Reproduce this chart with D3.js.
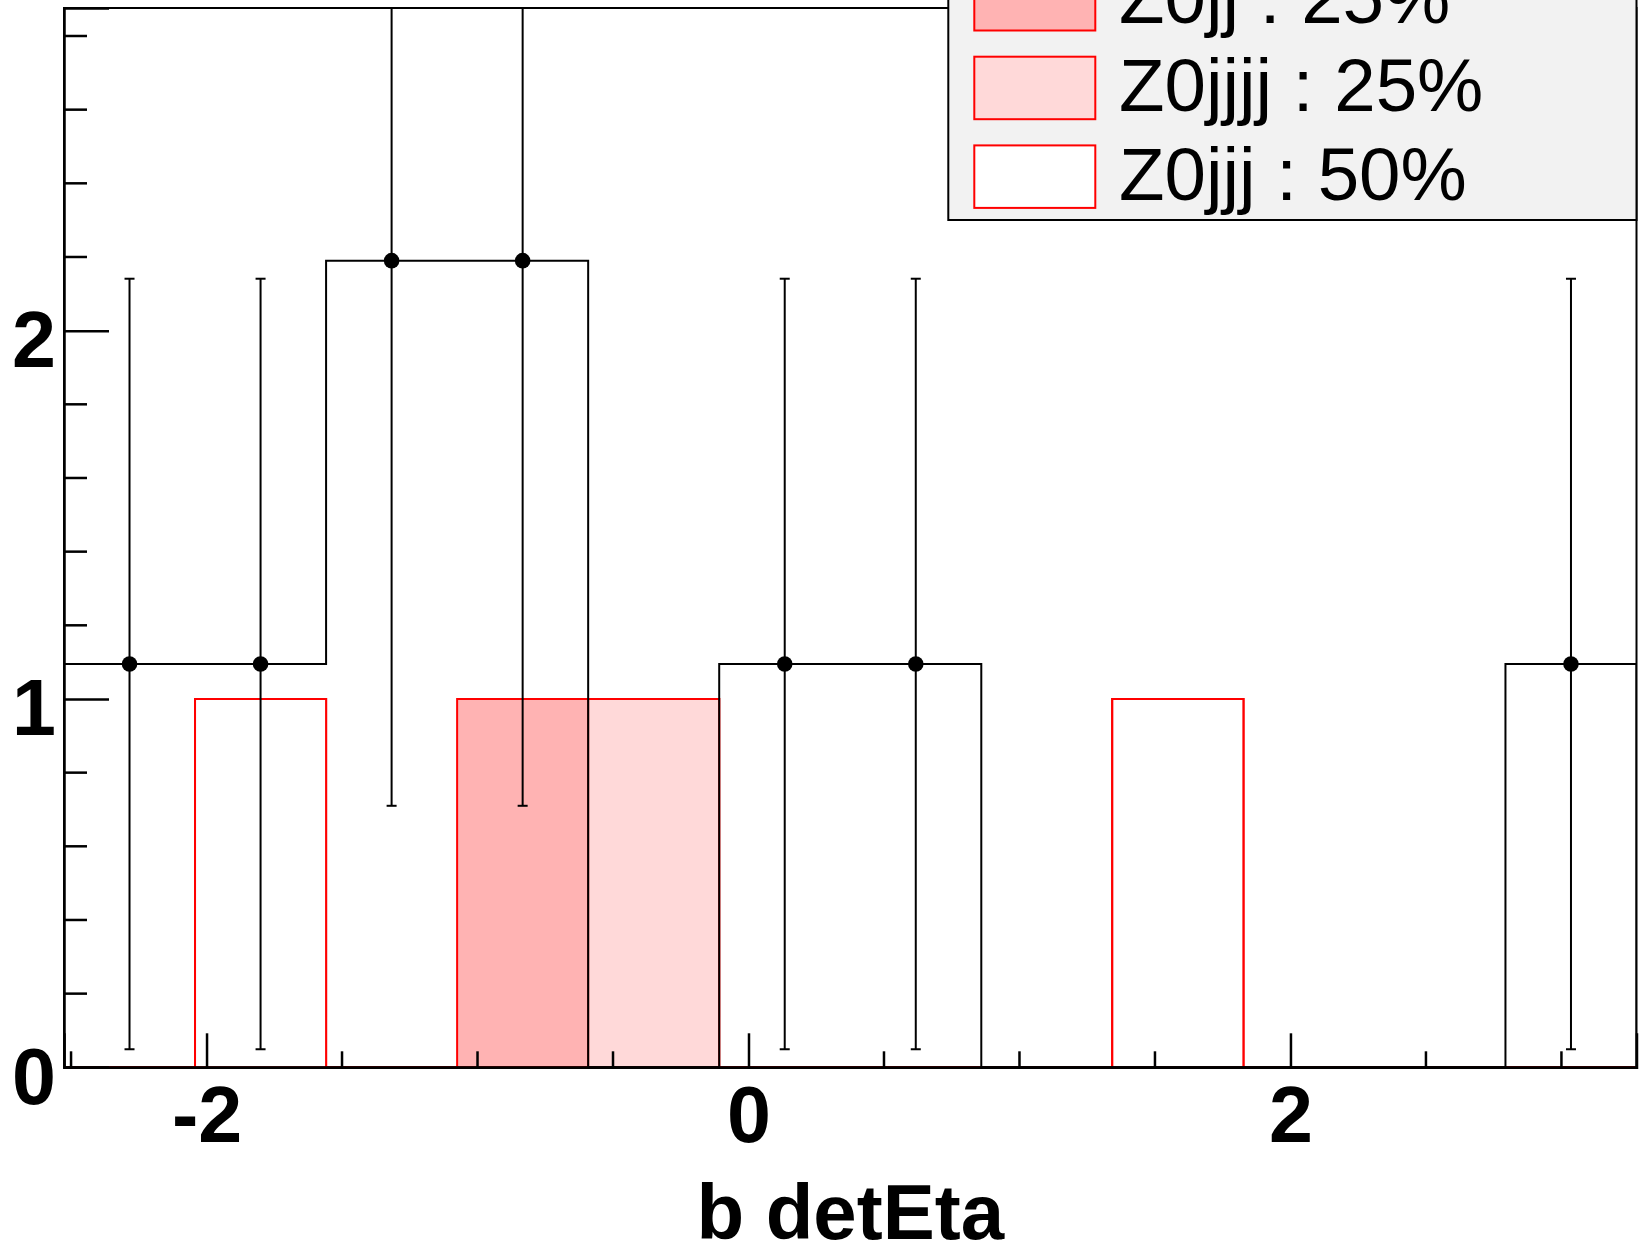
<!DOCTYPE html>
<html><head><meta charset="utf-8">
<script src="https://cdn.jsdelivr.net/npm/d3@7"></script>
<style>body{margin:0;background:#fff}svg{display:block}</style>
</head><body>
<svg id="c" width="1649" height="1247"></svg>
<script>
// ---- data ----
const xRange = [-2.526, 3.277];
const nBins = 12;
const yRange = [0, 2.876];
const dataCounts = [1.095, 1.095, 2.19, 2.19, 0, 1.095, 1.095, 0, 0, 0, 0, 1.095];
const dataErrors = [1.046, 1.046, 1.48, 1.48, 0, 1.046, 1.046, 0, 0, 0, 0, 1.046];
const z0jjjCounts  = [0, 1, 0, 0, 0, 0, 0, 0, 1, 0, 0, 0];
const z0jjjjCounts = [0, 0, 0, 0, 1, 0, 0, 0, 0, 0, 0, 0];
const z0jjCounts   = [0, 0, 0, 1, 0, 0, 0, 0, 0, 0, 0, 0];
const stackKeys = ["Z0jjj", "Z0jjjj", "Z0jj"];
const stackColors = ["#ffffff", "#ffd9d9", "#ffb3b3"];
const legendLabels = ["Z0jj : 25%", "Z0jjjj : 25%", "Z0jjj : 50%"];
const legendColors = ["#ffb3b3", "#ffd9d9", "#ffffff"];
const xMajorTicks = [-2, 0, 2];
const xMinorTicks = [-2.5, -1.5, -1, -0.5, 0.5, 1, 1.5, 2.5, 3];
const yMajorTicks = [0, 1, 2];
const yMinorTicks = [0.2, 0.4, 0.6, 0.8, 1.2, 1.4, 1.6, 1.8, 2.2, 2.4, 2.6, 2.8];
const xTitle = "b detEta";

// ---- layout ----
const L = 64, R = 1636.5, T = 8, B = 1067.3;
const svg = d3.select("#c");
const x = d3.scaleLinear().domain(xRange).range([L, R]);
const y = d3.scaleLinear().domain(yRange).range([B, T]);
const bw = (xRange[1] - xRange[0]) / nBins;
const edges = d3.range(nBins + 1).map(i => xRange[0] + i * bw);
const centers = d3.range(nBins).map(i => xRange[0] + (i + 0.5) * bw);

svg.append("defs").append("clipPath").attr("id", "pc")
  .append("rect").attr("x", L).attr("y", T).attr("width", R - L).attr("height", B - T);

const plot = svg.append("g").attr("clip-path", "url(#pc)");

function stepPts(vals) {
  const pts = [[edges[0], 0]];
  vals.forEach((v, i) => { pts.push([edges[i], v]); pts.push([edges[i + 1], v]); });
  pts.push([edges[nBins], 0]);
  return pts;
}
const line = d3.line().x(d => x(d[0])).y(d => y(d[1]));

// stack
const rows = d3.range(nBins).map(i => ({Z0jjj: z0jjjCounts[i], Z0jjjj: z0jjjjCounts[i], Z0jj: z0jjCounts[i]}));
const layers = d3.stack().keys(stackKeys)(rows);
for (let k = layers.length - 1; k >= 0; k--) {
  const tops = layers[k].map(d => d[1]);
  plot.append("path").attr("d", line(stepPts(tops)) + "Z")
    .attr("fill", stackColors[k]).attr("stroke", "#ff0000").attr("stroke-width", 2);
}

// data histogram outline
plot.append("path").attr("d", line(stepPts(dataCounts)))
  .attr("fill", "none").attr("stroke", "#000").attr("stroke-width", 2);

// error bars and points
const pts = centers.map((c, i) => ({c, v: dataCounts[i], e: dataErrors[i]})).filter(d => d.v > 0);
const eb = plot.append("g").attr("stroke", "#000").attr("stroke-width", 2);
eb.selectAll("line.v").data(pts).join("line").attr("class", "v")
  .attr("x1", d => x(d.c)).attr("x2", d => x(d.c))
  .attr("y1", d => y(d.v - d.e)).attr("y2", d => y(d.v + d.e));
eb.selectAll("line.lo").data(pts).join("line").attr("class", "lo")
  .attr("x1", d => x(d.c) - 5).attr("x2", d => x(d.c) + 5)
  .attr("y1", d => y(d.v - d.e)).attr("y2", d => y(d.v - d.e));
eb.selectAll("line.hi").data(pts).join("line").attr("class", "hi")
  .attr("x1", d => x(d.c) - 5).attr("x2", d => x(d.c) + 5)
  .attr("y1", d => y(d.v + d.e)).attr("y2", d => y(d.v + d.e));
plot.selectAll("circle").data(pts).join("circle")
  .attr("cx", d => x(d.c)).attr("cy", d => y(d.v)).attr("r", 7.8).attr("fill", "#000");

// frame
svg.append("rect").attr("x", L).attr("y", T).attr("width", R - L).attr("height", B - T)
  .attr("fill", "none").attr("stroke", "#000").attr("stroke-width", 2);

// axes
const fontB = "'Liberation Sans', Arial, Helvetica, sans-serif";
const xAx = svg.append("g").attr("transform", `translate(0,${B})`)
  .call(d3.axisBottom(x).tickValues(xMajorTicks).tickFormat(d3.format("d")).tickSize(-34).tickPadding(19));
const yAx = svg.append("g").attr("transform", `translate(${L},0)`)
  .call(d3.axisLeft(y).tickValues(yMajorTicks).tickFormat(d3.format("d")).tickSize(-45).tickPadding(8));
[xAx, yAx].forEach(g => {
  g.select(".domain").attr("stroke", "#000").attr("stroke-width", 2.5);
  g.selectAll(".tick line").attr("stroke", "#000").attr("stroke-width", 2.5);
  g.selectAll("text").attr("font-family", fontB).attr("font-weight", "bold")
    .attr("font-size", 79).attr("fill", "#000");
});
xAx.selectAll("text").text(d => d < 0 ? "-" + Math.abs(d) : d);
yAx.selectAll("text").attr("dy", "0.455em");

svg.append("g").selectAll("line").data(xMinorTicks).join("line")
  .attr("x1", d => x(d)).attr("x2", d => x(d)).attr("y1", B).attr("y2", B - 16)
  .attr("stroke", "#000").attr("stroke-width", 2.5);
svg.append("g").selectAll("line").data(yMinorTicks).join("line")
  .attr("x1", L).attr("x2", L + 23).attr("y1", d => y(d)).attr("y2", d => y(d))
  .attr("stroke", "#000").attr("stroke-width", 2.5);

svg.append("text").attr("x", (L + R) / 2).attr("y", 1239).attr("text-anchor", "middle")
  .attr("font-family", fontB).attr("font-weight", "bold").attr("font-size", 78)
  .text(xTitle);

// legend
const lg = svg.append("g");
lg.append("rect").attr("x", 948.3).attr("y", -50).attr("width", R - 948.3).attr("height", 220 + 50)
  .attr("fill", "#f2f2f2").attr("stroke", "#000").attr("stroke-width", 2);
const ent = lg.selectAll("g.e").data(legendLabels).join("g").attr("class", "e")
  .attr("transform", (d, i) => `translate(0,${i * 88.7})`);
ent.append("rect").attr("x", 974.3).attr("y", -32).attr("width", 121).attr("height", 62.5)
  .attr("fill", (d, i) => legendColors[i]).attr("stroke", "#ff0000").attr("stroke-width", 2);
ent.append("text").attr("x", 1119).attr("y", 22.5)
  .attr("font-family", fontB).attr("font-size", 74.5).attr("fill", "#000")
  .text(d => d);
</script>
</body></html>
